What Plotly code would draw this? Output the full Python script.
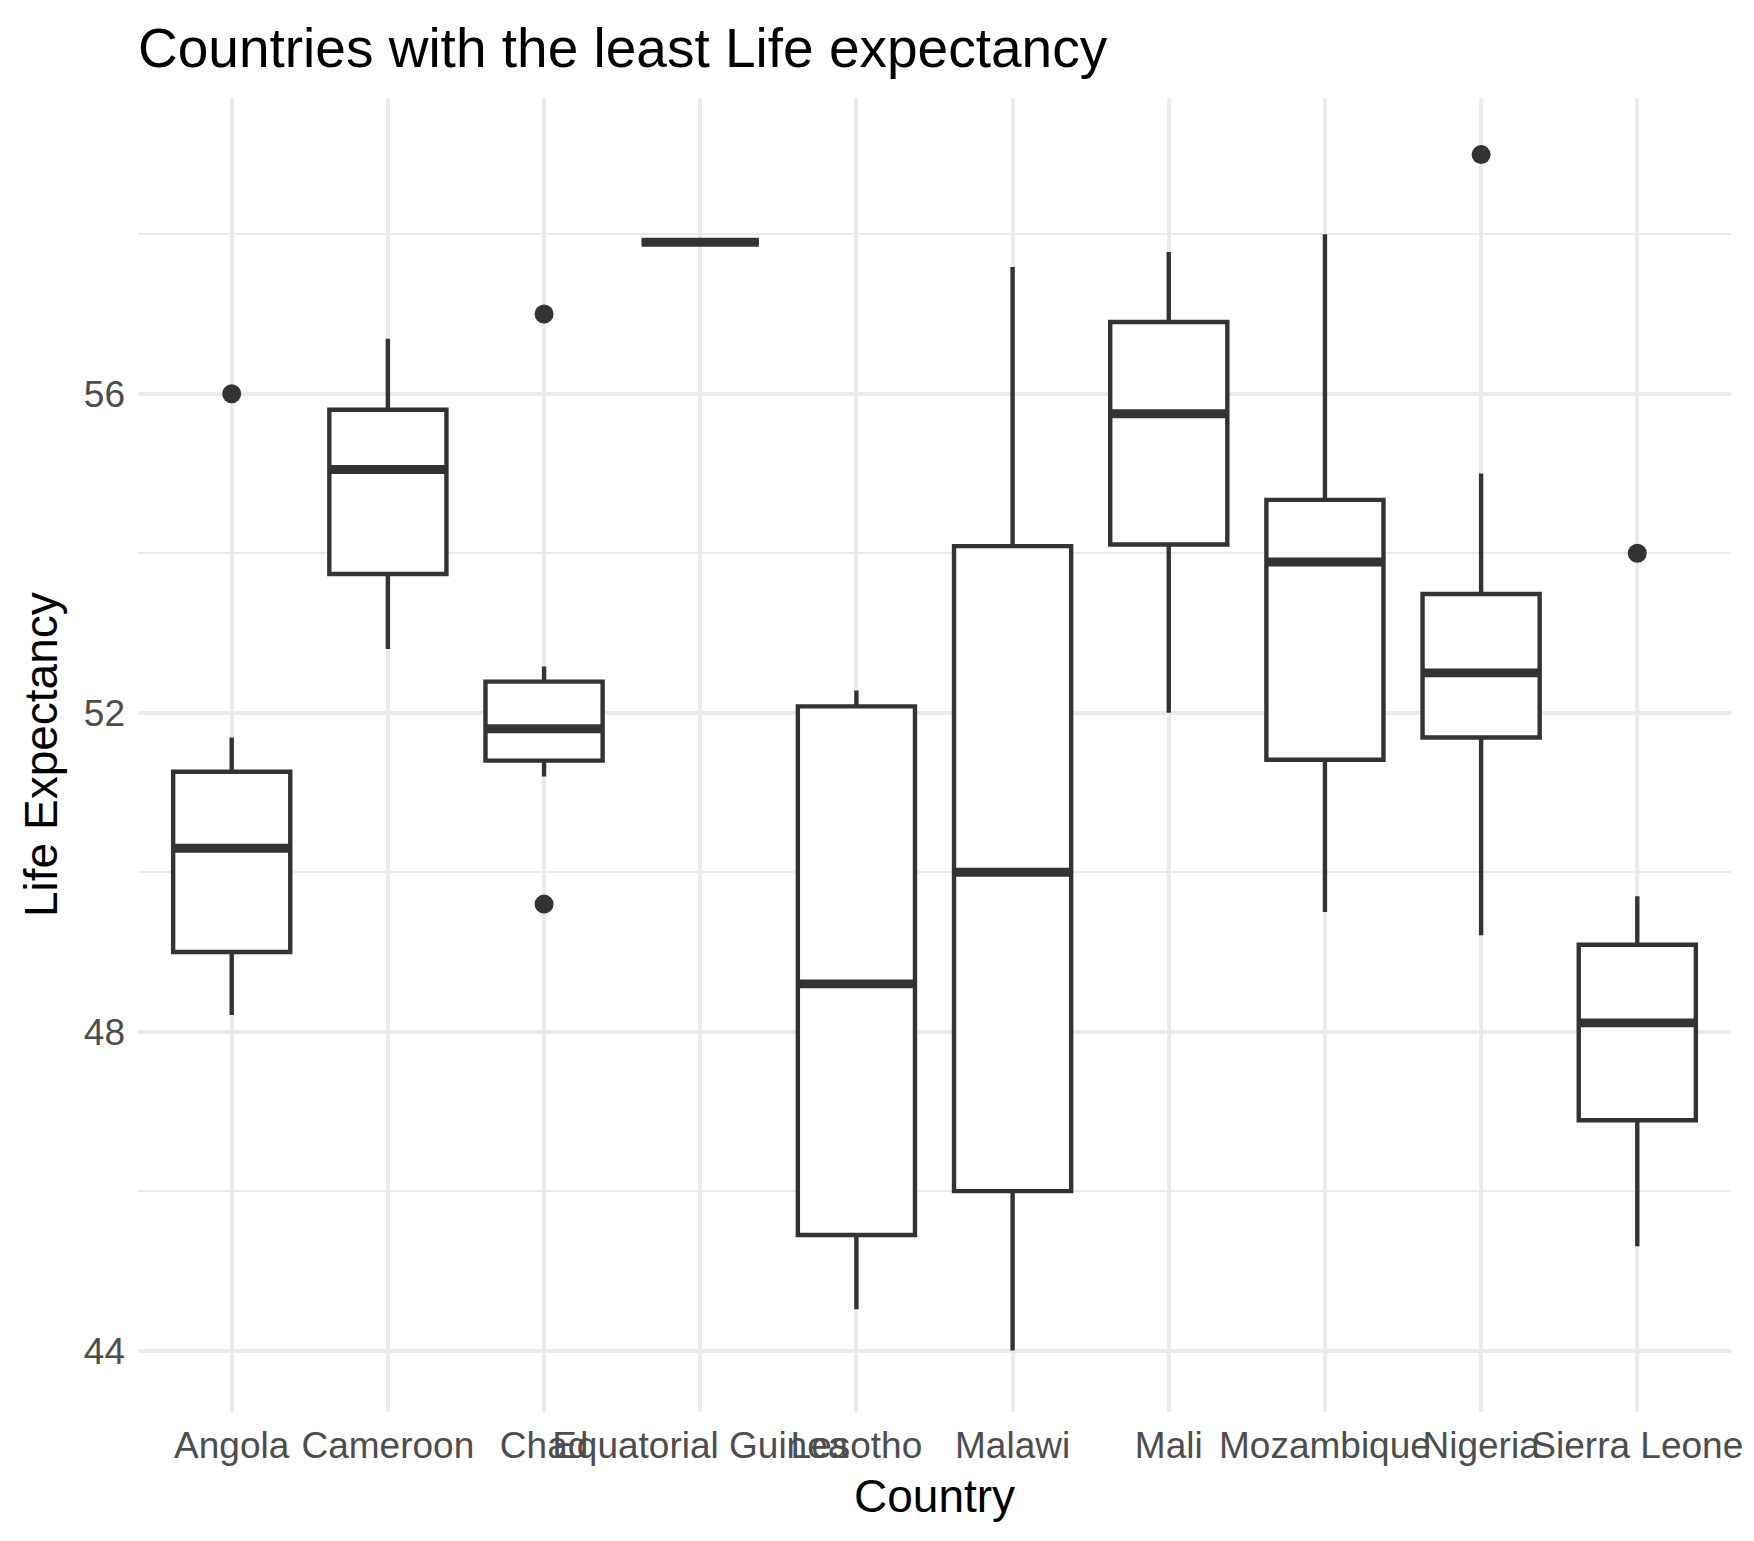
import plotly.graph_objects as go

countries = ["Angola", "Cameroon", "Chad", "Equatorial Guinea", "Lesotho",
             "Malawi", "Mali", "Mozambique", "Nigeria", "Sierra Leone"]
lower_whisker = [48.21, 52.80, 51.20, 57.90, 44.52, 44.00, 52.00, 49.50, 49.21, 45.31]
q1_values     = [49.00, 53.74, 51.40, 57.90, 45.45, 46.00, 54.11, 51.41, 51.69, 46.89]
median_values = [50.30, 55.05, 51.80, 57.90, 48.60, 50.00, 55.75, 53.89, 52.50, 48.11]
q3_values     = [51.26, 55.80, 52.39, 57.90, 52.08, 54.09, 56.90, 54.67, 53.49, 49.09]
upper_whisker = [51.69, 56.69, 52.58, 57.90, 52.28, 57.59, 57.78, 58.00, 55.00, 49.70]

outlier_country = ["Angola", "Chad", "Chad", "Nigeria", "Sierra Leone"]
outlier_value = [56.0, 57.0, 49.6, 59.0, 54.0]

y_tick_values = [44, 48, 52, 56]

BOX_W = 0.75
LINE = "#333333"
FONT = "Liberation Sans, Arial, Helvetica, sans-serif"

xpos = list(range(len(countries)))

fig = go.Figure()
fig.add_trace(go.Box(
    x=xpos, q1=q1_values, median=median_values, q3=q3_values,
    lowerfence=lower_whisker, upperfence=upper_whisker,
    width=BOX_W, whiskerwidth=0, boxpoints=False,
    fillcolor="white", line=dict(color=LINE, width=4.4),
    showlegend=False, hoverinfo="skip",
))

# thicker median bars (ggplot fatten = 2)
mx, my = [], []
for i, m in zip(xpos, median_values):
    mx += [i - BOX_W / 2, i + BOX_W / 2, None]
    my += [m, m, None]
fig.add_trace(go.Scatter(x=mx, y=my, mode="lines",
                         line=dict(color=LINE, width=8.9),
                         showlegend=False, hoverinfo="skip"))

ox = [countries.index(c) for c in outlier_country]
fig.add_trace(go.Scatter(x=ox, y=outlier_value, mode="markers",
                         marker=dict(color=LINE, size=19, line=dict(width=0)),
                         showlegend=False, hoverinfo="skip"))

# page body has an 8px margin; size the figure so the plot area lands where
# the reference has it, and keep the page from scrolling
W, H = 1738, 1518
fig.update_layout(
    width=W, height=H,
    margin=dict(l=130, r=15, t=90, b=114),
    plot_bgcolor="white", paper_bgcolor="white",
    font=dict(family=FONT, color="black"),
    title=dict(text="Countries with the least Life expectancy",
               x=0, xref="paper", xanchor="left",
               y=1 - 40 / H, yref="container", yanchor="middle",
               font=dict(size=55, color="black", family=FONT)),
    xaxis=dict(
        range=[-0.6, 9.6], tickvals=xpos, ticktext=countries, tickangle=0,
        automargin=False,
        showgrid=True, gridcolor="#EBEBEB", gridwidth=4.4,
        zeroline=False, showline=False, ticks="",
        tickfont=dict(size=37, color="#4D4D4D", family=FONT),
        ticklabelstandoff=8,
    ),
    yaxis=dict(
        range=[43.23, 59.71], tickvals=y_tick_values,
        automargin=False,
        showgrid=True, gridcolor="#EBEBEB", gridwidth=4.4,
        minor=dict(tick0=44, dtick=2, showgrid=True, gridcolor="#EBEBEB", gridwidth=2.2),
        zeroline=False, showline=False, ticks="",
        tickfont=dict(size=37, color="#4D4D4D", family=FONT),
        ticklabelstandoff=12,
    ),
    annotations=[
        dict(text="Country", xref="paper", yref="paper", x=0.5, y=-84 / 1314,
             xanchor="center", yanchor="middle", showarrow=False,
             font=dict(size=46, color="black", family=FONT)),
        dict(text="Life Expectancy", xref="paper", yref="paper", x=-97 / 1593, y=0.5,
             xanchor="center", yanchor="middle", textangle=-90, showarrow=False,
             font=dict(size=46, color="black", family=FONT)),
    ],
)

fig.write_html("out.html")
